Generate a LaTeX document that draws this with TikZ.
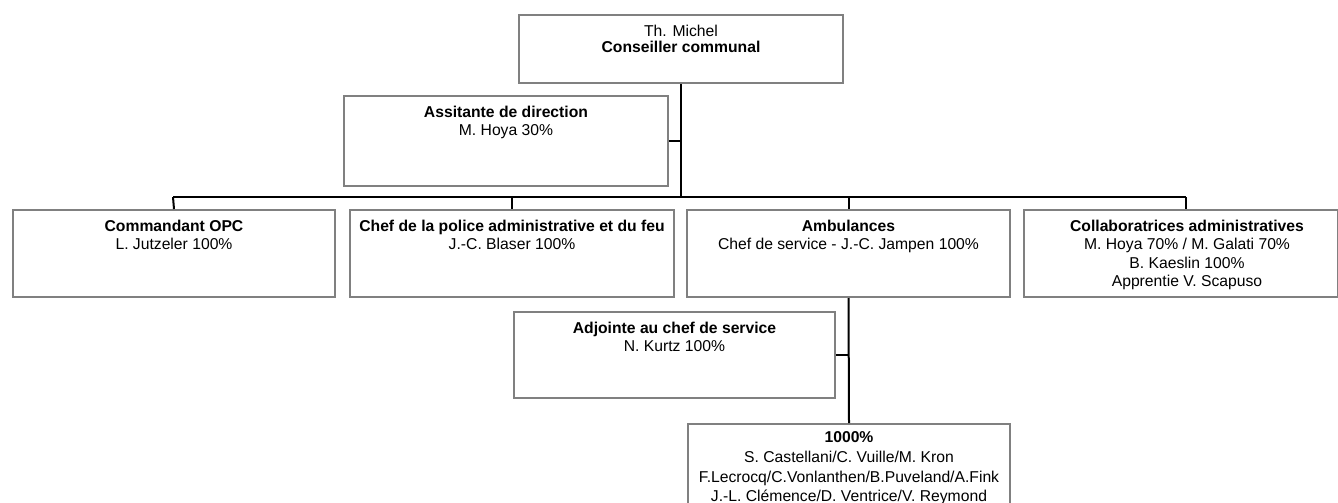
\documentclass[tikz,border=0pt]{standalone}
\usepackage{fontspec}
\setmainfont{Liberation Sans}
\definecolor{boxgray}{RGB}{128,128,128}
\begin{document}
\begin{tikzpicture}[x=1pt,y=-1pt,
  box/.style={draw=boxgray, line width=2pt, fill=white, anchor=north west, inner sep=0pt},
  txt/.style={anchor=north, inner sep=0pt, align=center, font=\fontsize{15.7}{18.5}\selectfont},
  link/.style={draw=black, line width=2pt}]
\useasboundingbox (0,0) rectangle (1338,503);
\clip (0,0) rectangle (1338,503);

% boxes
\node[box, minimum width=324pt, minimum height=68pt] (top) at (518,14) {};
\node[box, minimum width=324pt, minimum height=90pt] (assist) at (343,95) {};
\node[box, minimum width=322pt, minimum height=87pt] (cmd) at (12,209) {};
\node[box, minimum width=324pt, minimum height=87pt] (police) at (349,209) {};
\node[box, minimum width=323pt, minimum height=87pt] (amb) at (686,209) {};
\node[box, minimum width=314pt, minimum height=87pt] (collab) at (1023,209) {};
\node[box, minimum width=321pt, minimum height=86pt] (adj) at (513,311) {};
\node[box, minimum width=322pt, minimum height=110pt] (team) at (687,423) {};

% texts
\node[txt, font=\fontsize{15.7}{16}\selectfont] (topT) at ([yshift=-10.5pt]top.north) {Th. Michel\\\textbf{Conseiller communal}};
\node[txt] (assistT) at ([yshift=-10.5pt]assist.north) {\textbf{Assitante de direction}\\M. Hoya 30\%};
\node[txt] (cmdT) at ([yshift=-10.5pt]cmd.north) {\textbf{Commandant OPC}\\L. Jutzeler 100\%};
\node[txt] (policeT) at ([yshift=-10.5pt]police.north) {\textbf{Chef de la police administrative et du feu}\\J.-C. Blaser 100\%};
\node[txt] (ambT) at ([yshift=-10.5pt]amb.north) {\textbf{Ambulances}\\Chef de service - J.-C. Jampen 100\%};
\node[txt] (collabT) at ([xshift=6pt,yshift=-10.5pt]collab.north) {\textbf{Collaboratrices administratives}\\M. Hoya 70\% / M. Galati 70\%\\B. Kaeslin 100\%\\Apprentie V. Scapuso};
\node[txt] (adjT) at ([yshift=-10.5pt]adj.north) {\textbf{Adjointe au chef de service}\\N. Kurtz 100\%};
\node[txt, font=\fontsize{15.7}{19.7}\selectfont] (teamT) at ([yshift=-8.5pt]team.north) {\textbf{1000\%}\\S. Castellani/C. Vuille/M. Kron\\F.Lecrocq/C.Vonlanthen/B.Puveland/A.Fink\\J.-L. Clémence/D. Ventrice/V. Reymond};

% connectors
\coordinate (barL) at (173,197);
\coordinate (barR) at (1186,197);
\draw[link] (top.south) -- (top.south |- barL);
\draw[link] (assist.east) -- (assist.east -| top.south);
\draw[link] (barL) -- (barR);
\draw[link] (barL) -- (cmd.north);
\draw[link] (police.north |- barL) -- (police.north);
\draw[link] (amb.north |- barL) -- (amb.north);
\draw[link] (barR) -- (barR |- collab.north);
\draw[link] (amb.south) -- (team.north);
\draw[link] (adj.east) -- (adj.east -| amb.south);
\end{tikzpicture}
\end{document}
